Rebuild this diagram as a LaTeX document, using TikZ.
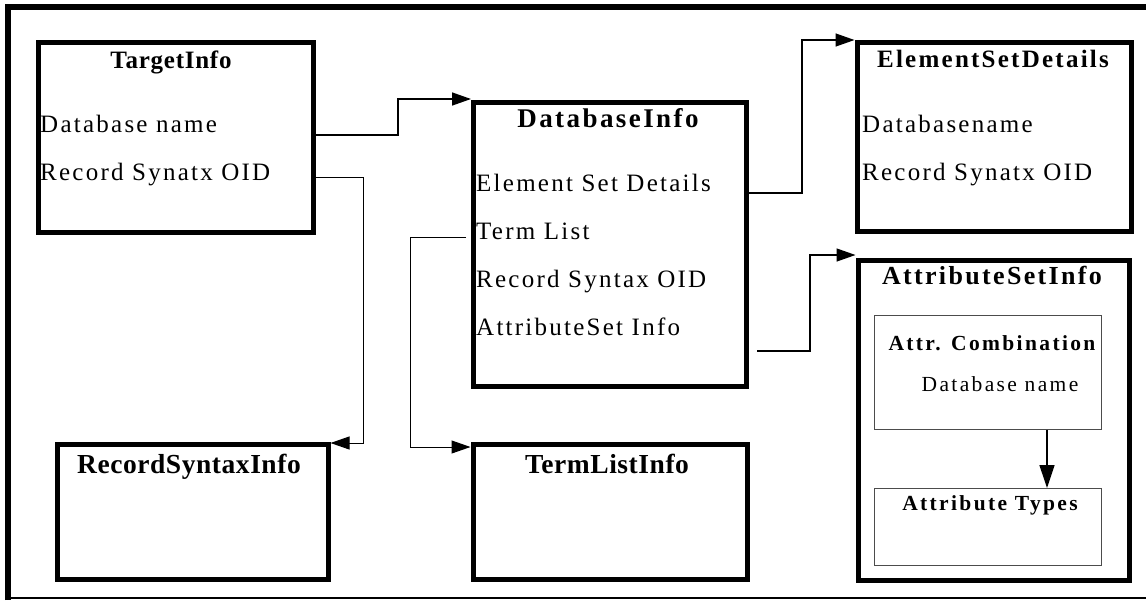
\documentclass[tikz,border=0pt]{standalone}
\usepackage{fontspec}
\setmainfont{Liberation Serif}
\newfontfamily\itemfont{Liberation Serif}[LetterSpace=9]
\newfontfamily\subfont{Liberation Serif}[LetterSpace=11]
\newfontfamily\headfontA{Liberation Serif}[LetterSpace=3]
\newfontfamily\headfontB{Liberation Serif}[LetterSpace=9]
\newfontfamily\plainhead{Liberation Serif}[LetterSpace=2]
\usetikzlibrary{arrows.meta}
\begin{document}
\begin{tikzpicture}[x=1pt,y=-1pt,
  box/.style={draw, line width=5pt, anchor=north west, inner sep=0pt},
  subbox/.style={draw=black!70, line width=0.9pt, anchor=north west, inner sep=0pt},
  ttl/.style={anchor=base, inner sep=0pt, font=\headfontB\bfseries\fontsize{26}{30}\selectfont},
  ttlt/.style={anchor=base, inner sep=0pt, font=\plainhead\bfseries\fontsize{27.5}{30}\selectfont},
  subttl/.style={anchor=base, inner sep=0pt, font=\subfont\bfseries\fontsize{21.5}{24}\selectfont},
  item/.style={anchor=base west, inner sep=0pt, font=\itemfont\fontsize{25}{28}\selectfont},
  subitem/.style={anchor=base, inner sep=0pt, font=\subfont\fontsize{21.5}{24}\selectfont},
  conn/.style={line width=1.4pt},
  thin/.style={line width=1pt},
  tip/.style={-{Triangle[length=19pt,width=13pt]}},
  bigtip/.style={-{Triangle[length=23pt,width=15pt]}}]
\useasboundingbox (0,0) rectangle (1146,600);

% outer frame
\draw[line width=6pt] (7.5,600) -- (7.5,7) -- (1146,7);
\draw[line width=1.3pt] (7.5,598) -- (1146,598);

% boxes
\node[box, minimum width=275pt, minimum height=190pt] (tgt) at (35.5,39.5) {};
\node[box, minimum width=273pt, minimum height=284pt] (db)  at (471,99.5) {};
\node[box, minimum width=274pt, minimum height=189pt] (esd) at (854.5,39.5) {};
\node[box, minimum width=271pt, minimum height=320pt] (asi) at (855.5,257.5) {};
\node[box, minimum width=271pt, minimum height=135pt] (rsi) at (54.5,442) {};
\node[box, minimum width=274pt, minimum height=135pt] (tli) at (470.5,442) {};
\node[subbox, minimum width=227pt, minimum height=114pt] (comb)  at (874,315) {};
\node[subbox, minimum width=227pt, minimum height=77pt]  (types) at (874,488) {};

% titles
\node[ttl, font=\headfontA\bfseries\fontsize{25}{28}\selectfont] (tgtT) at (171,68) {TargetInfo};
\node[ttl, font=\headfontB\bfseries\fontsize{27}{30}\selectfont] (dbT) at (608,127) {DatabaseInfo};
\node[ttl, font=\headfontB\bfseries\fontsize{25}{30}\selectfont] (esdT) at (993,67) {ElementSetDetails};
\node[ttl] (asiT) at (992,284) {AttributeSetInfo};
\node[ttlt] (rsiT) at (189,473) {RecordSyntaxInfo};
\node[ttlt] (tliT) at (607,473) {TermListInfo};
\node[subttl] (combT)  at (992,350) {Attr. Combination};
\node[subttl] (typesT) at (990,510) {Attribute Types};

% fields
\node[item] (tgtA) at (40,132) {Database name};
\node[item] (tgtB) at (40,180) {Record Synatx OID};
\node[item] (dbA) at (476,191) {Element Set Details};
\node[item] (dbB) at (476,239) {Term List};
\node[item] (dbC) at (476,287) {Record Syntax OID};
\node[item] (dbD) at (476,335) {AttributeSet Info};
\node[item] (esdA) at (862,132) {Databasename};
\node[item] (esdB) at (862,180) {Record Synatx OID};
\node[subitem] (combA) at (1000,391) {Database name};

% connectors
\draw[conn,tip] (tgt.east |- 0,135) -- (398,135) |- (db.west |- 0,99);
\draw[thin,tip] (tgt.east |- 0,177) -- (363,177) |- (rsi.east |- 0,443);
\draw[thin,tip] ([xshift=-5pt]db.west |- 0,237) -- (410,237) |- (tli.west |- 0,447);
\draw[conn,tip] (db.east |- 0,193) -- (802,193) |- (esd.west |- 0,40);
\coordinate (asiFrom) at (757,351);
\draw[conn,tip] (asiFrom) -- (810,351) |- (asi.west |- 0,255);
\draw[conn,bigtip] (comb.south -| 1047,0) -- (types.north -| 1047,0);
\end{tikzpicture}
\end{document}
